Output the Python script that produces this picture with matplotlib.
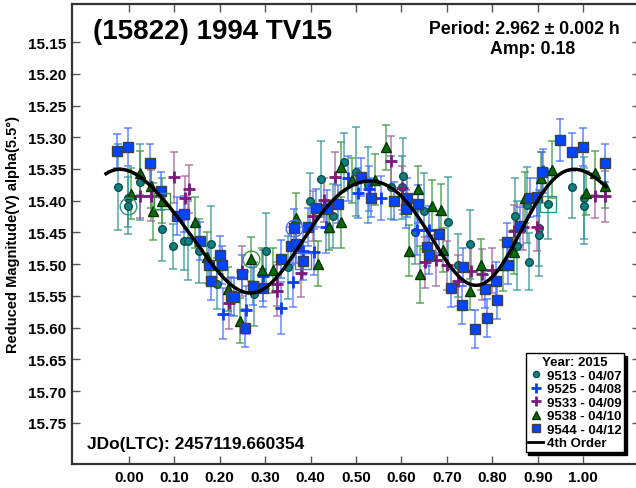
import numpy as np
import matplotlib
matplotlib.use("Agg")
import matplotlib.pyplot as plt
from matplotlib.lines import Line2D

plt.rcParams['font.family'] = ['Liberation Sans', 'DejaVu Sans']
plt.rcParams['font.weight'] = 'bold'

# 9513 - 04/07 (teal circles)
s1_x = [-0.024, -0.001, -0.001, 0.024, 0.072, 0.098, 0.121, 0.130, 0.155, 0.181,
        0.195, 0.276, 0.302, 0.351, 0.399, 0.423, 0.449, 0.474, 0.501, 0.527,
        0.577, 0.601, 0.604, 0.630, 0.650, 0.702, 0.725, 0.751, 0.849, 0.854,
        0.876, 0.880, 0.902, 0.902, 0.923, 0.976, 1.001, 1.001]
s1_y = [15.378, 15.396, 15.408, 15.371, 15.445, 15.472, 15.464, 15.463, 15.479, 15.469,
        15.531, 15.547, 15.479, 15.505, 15.401, 15.366, 15.424, 15.339, 15.354, 15.375,
        15.379, 15.379, 15.361, 15.449, 15.416, 15.433, 15.502, 15.469, 15.424, 15.471,
        15.407, 15.496, 15.443, 15.454, 15.405, 15.378, 15.396, 15.408]
s1_e = [0.068, 0.045, 0.045, 0.060, 0.050, 0.035, 0.046, 0.062, 0.050, 0.060,
        0.040, 0.050, 0.060, 0.050, 0.045, 0.060, 0.050, 0.045, 0.070, 0.060,
        0.050, 0.050, 0.060, 0.050, 0.060, 0.070, 0.050, 0.055, 0.060, 0.070,
        0.060, 0.045, 0.060, 0.065, 0.055, 0.050, 0.065, 0.060]

# 9525 - 04/08 (blue plus)
s2_x = [0.208, 0.258, 0.296, 0.336, 0.361, 0.384, 0.408, 0.435, 0.482, 0.505,
        0.529, 0.554, 0.634, 0.661, 0.912]
s2_y = [15.578, 15.572, 15.518, 15.569, 15.528, 15.479, 15.481, 15.442, 15.365, 15.388,
        15.381, 15.396, 15.446, 15.446, 15.353]
s2_e = [0.040, 0.038, 0.040, 0.041, 0.040, 0.038, 0.036, 0.040, 0.035, 0.040,
        0.035, 0.035, 0.040, 0.038, 0.035]

# 9533 - 04/09 (purple plus)
s3_x = [0.024, 0.049, 0.099, 0.133, 0.123, 0.250, 0.220, 0.327, 0.327, 0.380,
        0.405, 0.430, 0.454, 0.576, 0.601, 0.652, 0.676, 0.701, 0.725, 0.753,
        0.777, 0.799, 0.847, 0.868, 0.898, 1.026, 1.049]
s3_y = [15.392, 15.392, 15.363, 15.381, 15.396, 15.511, 15.562, 15.531, 15.542, 15.514,
        15.424, 15.399, 15.363, 15.338, 15.380, 15.497, 15.494, 15.502, 15.526, 15.511,
        15.516, 15.510, 15.447, 15.442, 15.442, 15.392, 15.393]
s3_e = [0.035, 0.040, 0.040, 0.038, 0.035, 0.040, 0.040, 0.035, 0.040, 0.038,
        0.040, 0.035, 0.040, 0.040, 0.035, 0.040, 0.040, 0.038, 0.040, 0.040,
        0.040, 0.035, 0.040, 0.035, 0.038, 0.035, 0.040]

# 9538 - 04/10 (green triangles)
s4_x = [0.024, 0.004, 0.048, 0.053, 0.073, 0.146, 0.171, 0.219, 0.270, 0.244,
        0.294, 0.317, 0.368, 0.416, 0.441, 0.466, 0.466, 0.492, 0.542, 0.566,
        0.617, 0.637, 0.641, 0.667, 0.687, 0.691, 0.751, 0.775, 0.823, 0.847,
        0.872, 0.907, 0.931, 1.007, 1.026, 1.049]
s4_y = [15.356, 15.389, 15.377, 15.417, 15.400, 15.434, 15.489, 15.539, 15.492, 15.589,
        15.510, 15.510, 15.428, 15.499, 15.442, 15.434, 15.347, 15.368, 15.367, 15.316,
        15.479, 15.381, 15.516, 15.408, 15.414, 15.478, 15.543, 15.501, 15.502, 15.481,
        15.395, 15.364, 15.351, 15.388, 15.356, 15.377]
s4_e = [0.035, 0.040, 0.035, 0.045, 0.035, 0.040, 0.040, 0.035, 0.035, 0.035,
        0.035, 0.035, 0.040, 0.035, 0.035, 0.040, 0.040, 0.035, 0.040, 0.035,
        0.040, 0.035, 0.045, 0.040, 0.040, 0.035, 0.030, 0.040, 0.040, 0.035,
        0.040, 0.040, 0.045, 0.035, 0.035, 0.035]

# 9544 - 04/12 (blue squares)
s5_x = [-0.026, -0.001, 0.047, 0.071, 0.106, 0.122, 0.156, 0.176, 0.181, 0.201,
        0.205, 0.226, 0.231, 0.250, 0.274, 0.296, 0.255, 0.334, 0.358, 0.369,
        0.363, 0.384, 0.395, 0.413, 0.437, 0.461, 0.510, 0.534, 0.584, 0.612,
        0.610, 0.636, 0.683, 0.657, 0.660, 0.709, 0.736, 0.733, 0.762, 0.783,
        0.788, 0.808, 0.810, 0.832, 0.835, 0.861, 0.883, 0.899, 0.909, 0.949,
        0.975, 0.999, 1.047]
s5_y = [15.322, 15.315, 15.341, 15.384, 15.424, 15.421, 15.463, 15.502, 15.527, 15.485,
        15.501, 15.550, 15.552, 15.516, 15.535, 15.538, 15.600, 15.492, 15.471, 15.468,
        15.443, 15.495, 15.441, 15.412, 15.413, 15.405, 15.362, 15.395, 15.401, 15.395,
        15.413, 15.405, 15.452, 15.473, 15.485, 15.538, 15.505, 15.564, 15.602, 15.539,
        15.585, 15.526, 15.556, 15.465, 15.501, 15.440, 15.395, 15.394, 15.354, 15.304,
        15.323, 15.315, 15.341]
s5_e = [0.027, 0.030, 0.030, 0.030, 0.030, 0.028, 0.030, 0.030, 0.030, 0.030,
        0.030, 0.030, 0.030, 0.030, 0.030, 0.030, 0.030, 0.030, 0.030, 0.030,
        0.030, 0.030, 0.030, 0.030, 0.030, 0.030, 0.030, 0.030, 0.030, 0.030,
        0.030, 0.030, 0.030, 0.030, 0.030, 0.030, 0.030, 0.030, 0.030, 0.030,
        0.030, 0.030, 0.030, 0.030, 0.030, 0.030, 0.030, 0.030, 0.030, 0.033,
        0.030, 0.030, 0.030]

# flagged points (open rings / boxes around them)
flag_x = [-0.001, 0.270, 0.363, 0.073, 0.923, 0.384]
flag_y = [15.408, 15.492, 15.443, 15.400, 15.405, 15.495]
flag_m = ['o', 'o', 'o', 's', 's', 's']
flag_c = ['#2f9494', '#3a9a3a', '#4a70ff', '#3a9a3a', '#2f9494', '#4a70ff']

labels = ["9513 - 04/07", "9525 - 04/08", "9533 - 04/09", "9538 - 04/10", "9544 - 04/12"]

series = [
    (s1_x, s1_y, s1_e, dict(marker='o', ms=5.5, mfc='#117f7f', mec='#0b5050', ls='none'), '#2f9494'),
    (s2_x, s2_y, s2_e, dict(marker='+', ms=8.5, mew=2, color='#0a3cff', ls='none'), '#4a70ff'),
    (s3_x, s3_y, s3_e, dict(marker='+', ms=8.5, mew=2, color='#7b1a7b', ls='none'), '#a060a0'),
    (s4_x, s4_y, s4_e, dict(marker='^', ms=6.5, mfc='#0a6a0a', mec='#053505', ls='none'), '#3a9a3a'),
    (s5_x, s5_y, s5_e, dict(marker='s', ms=7, mfc='#0044ff', mec='#404040', ls='none'), '#3c6cff'),
]

# 4th order Fourier fit to the points in phase 0..1
allx = np.concatenate([s1_x, s2_x, s3_x, s4_x, s5_x])
ally = np.concatenate([s1_y, s2_y, s3_y, s4_y, s5_y])
keep = (allx >= 0) & (allx < 1)
allx, ally = allx[keep], ally[keep]


def design(x, order=4):
    cols = [np.ones_like(x)]
    for k in range(1, order + 1):
        cols.append(np.cos(2 * np.pi * k * x))
        cols.append(np.sin(2 * np.pi * k * x))
    return np.column_stack(cols)


coef, *_ = np.linalg.lstsq(design(allx), ally, rcond=None)
xf = np.linspace(-0.05, 1.05, 400)
yf = design(xf) @ coef

fig = plt.figure(figsize=(6.36, 4.89), dpi=100)
ax = fig.add_axes([72 / 636, 1 - 465 / 489, (640 - 72) / 636, (465 - 5) / 489])

for x, y, e, st, ec in series:
    ax.errorbar(x, y, yerr=e, fmt='none', ecolor=ec, elinewidth=1.2, capsize=3,
                capthick=1.2, alpha=0.75, zorder=2)
    ax.plot(x, y, zorder=3, **st)

for x, y, m, c in zip(flag_x, flag_y, flag_m, flag_c):
    ax.plot(x, y, marker=m, ms=12, mfc='none', mec=c, mew=1, ls='none', zorder=3)

ax.plot(xf, yf, color='black', lw=2.5, zorder=4)

ax.set_xlim(-0.125, 1.125)
ax.set_ylim(15.815, 15.09)
ax.set_xticks(np.arange(0, 1.01, 0.1))
ax.set_xticklabels([f"{v:.2f}" for v in np.arange(0, 1.01, 0.1)])
ax.set_yticks(np.arange(15.15, 15.76, 0.05))
ax.set_yticklabels([f"{v:.2f}" for v in np.arange(15.15, 15.76, 0.05)])
ax.tick_params(direction='in', length=6, width=1, color='#555555', labelsize=11,
               top=True, right=True, pad=4)
for lab in ax.get_xticklabels() + ax.get_yticklabels():
    lab.set_fontweight('bold')
for s in ax.spines.values():
    s.set_linewidth(1.6)
    s.set_color('#333333')

ax.set_ylabel("Reduced Magnitude(V) alpha(5.5°)", fontsize=10.5, fontweight='bold', labelpad=6)

fig.text(93 / 636, 1 - 32 / 489, "(15822) 1994 TV15", fontsize=20,
         fontweight='bold', ha='left', va='center')
fig.text(620 / 636, 1 - 30 / 489, "Period: 2.962 ± 0.002 h", fontsize=12.8,
         fontweight='bold', ha='right', va='center')
fig.text(533 / 636, 1 - 50 / 489, "Amp: 0.18", fontsize=12.8,
         fontweight='bold', ha='center', va='center')
fig.text(87 / 636, 1 - 445 / 489, "JDo(LTC): 2457119.660354", fontsize=12.5,
         fontweight='bold', ha='left', va='center')

handles = []
for (x, y, e, st, ec), lab in zip(series, labels):
    st2 = dict(st)
    st2['ms'] = st2['ms'] * 0.8
    handles.append(Line2D([], [], label=lab, **st2))
handles.append(Line2D([], [], color='black', lw=2, label='4th Order'))
leg = ax.legend(handles=handles, loc='lower right', bbox_to_anchor=(0.972, 0.026),
                bbox_transform=ax.transAxes, title="Year: 2015", fontsize=9.5,
                title_fontproperties={'weight': 'bold', 'size': 9.5},
                frameon=True, fancybox=False, shadow={'color': 'black', 'alpha': 1},
                borderpad=0.2, labelspacing=0.1, handlelength=1.1, handletextpad=0.3,
                borderaxespad=0)
leg.get_frame().set_edgecolor('black')
leg.get_frame().set_linewidth(1)
for t in leg.get_texts():
    t.set_fontweight('bold')
leg.set_zorder(10)

fig.savefig("out.png", dpi=100)
